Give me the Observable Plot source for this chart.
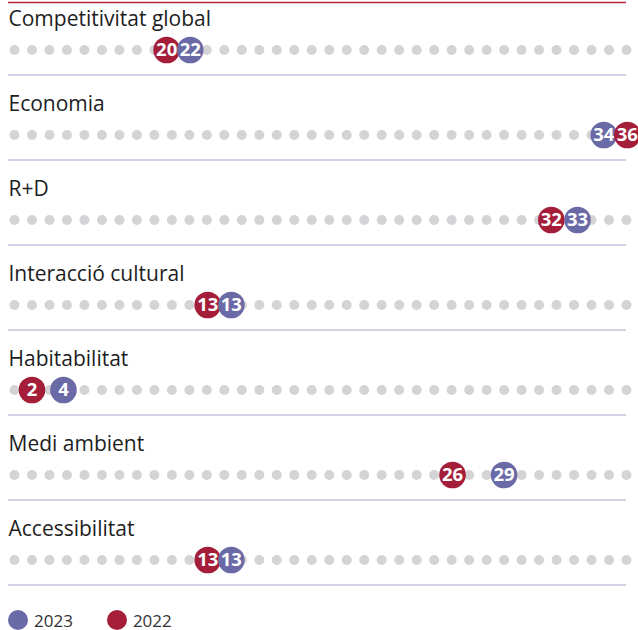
<!DOCTYPE html>
<html>
<head>
<meta charset="utf-8">
<script src="https://cdn.jsdelivr.net/npm/d3@7"></script>
<script src="https://cdn.jsdelivr.net/npm/@observablehq/plot@0.6"></script>
<style>
  html, body { margin: 0; padding: 0; background: #fff; }
  body { width: 638px; height: 630px; overflow: hidden; font-family: "Open Sans", "Noto Sans", sans-serif; }
  #legend { display: flex; align-items: center; height: 20px; margin-top: 7px; padding-left: 8px; font-size: 17px; line-height: 17px; color: #333; }
  .item { display: flex; align-items: center; margin-right: 34px; }
  .sw { width: 20px; height: 20px; border-radius: 50%; margin-right: 6px; }
</style>
</head>
<body>
<div id="chart"></div>
<div id="legend"></div>
<script>
// ---- data ----
const categories = ["Competitivitat global", "Economia", "R+D", "Interacció cultural", "Habitabilitat", "Medi ambient", "Accessibilitat"];
const rankSlots = d3.range(1, 37);              // 36 ranking positions (grey dots)
const rank2022 = [20, 36, 32, 13, 2, 26, 13];    // labels shown in the circles
const rank2023 = [22, 34, 33, 13, 4, 29, 13];
const pos2022 = [9.7, 36.05, 31.7, 12.05, 2.0, 26.05, 12.05]; // positions on the rank axis as drawn
const pos2023 = [11.05, 34.7, 33.2, 13.4, 3.8, 29.0, 13.4];
const years = ["2023", "2022"];
const colors = { "2023": "#6a6aa7", "2022": "#a41e3a" };

// ---- derived tables ----
const slots = categories.flatMap(c => rankSlots.map(r => ({ cat: c, r })));
const left = [], right = [];
categories.forEach((c, i) => {
  const a = { cat: c, year: "2022", pos: pos2022[i], label: rank2022[i] };
  const b = { cat: c, year: "2023", pos: pos2023[i], label: rank2023[i] };
  const [l, r] = a.pos <= b.pos ? [a, b] : [b, a];
  left.push(l); right.push(r);
});

const H = 603, mTop = 5.75, mBot = 0;
const sepDy = 25, titleDy = -31, topDy = -47.4;

const circleLayer = data => [
  Plot.dot(data, { x: "pos", y: "cat", r: 13.3, fill: d => colors[d.year] }),
  Plot.text(data, { x: "pos", y: "cat", dy: 0.5, text: "label", fill: "white", fontWeight: 700, fontSize: 18.5, fontFamily: "Open Sans" })
];

const chart = Plot.plot({
  width: 638, height: H,
  marginLeft: 8, marginRight: 12, marginTop: mTop, marginBottom: mBot,
  x: { domain: [1, 36], insetLeft: 6, axis: null },
  y: { domain: categories, type: "band", padding: 0, axis: null },
  style: { fontFamily: "Open Sans", overflow: "visible" },
  marks: [
    Plot.ruleY(categories.slice(0, 1), { y: d => d, dy: topDy, stroke: "#b02a3e", strokeWidth: 1.5 }),
    Plot.ruleY(categories, { y: d => d, dy: sepDy, stroke: "#a5a5cf", strokeWidth: 1.2 }),
    Plot.text(categories, { y: d => d, frameAnchor: "left", textAnchor: "start", dy: titleDy, text: d => d, fontSize: 21, fill: "#1e1e1e" }),
    Plot.dot(slots, { x: "r", y: "cat", r: 5, fill: "#d4d4d6" }),
    ...circleLayer(left),
    ...circleLayer(right)
  ]
});
document.getElementById("chart").appendChild(chart);

const legend = document.getElementById("legend");
years.forEach(y => {
  const it = document.createElement("div");
  it.className = "item";
  it.innerHTML = `<span class="sw" style="background:${colors[y]}"></span><span>${y}</span>`;
  legend.appendChild(it);
});
</script>
</body>
</html>
